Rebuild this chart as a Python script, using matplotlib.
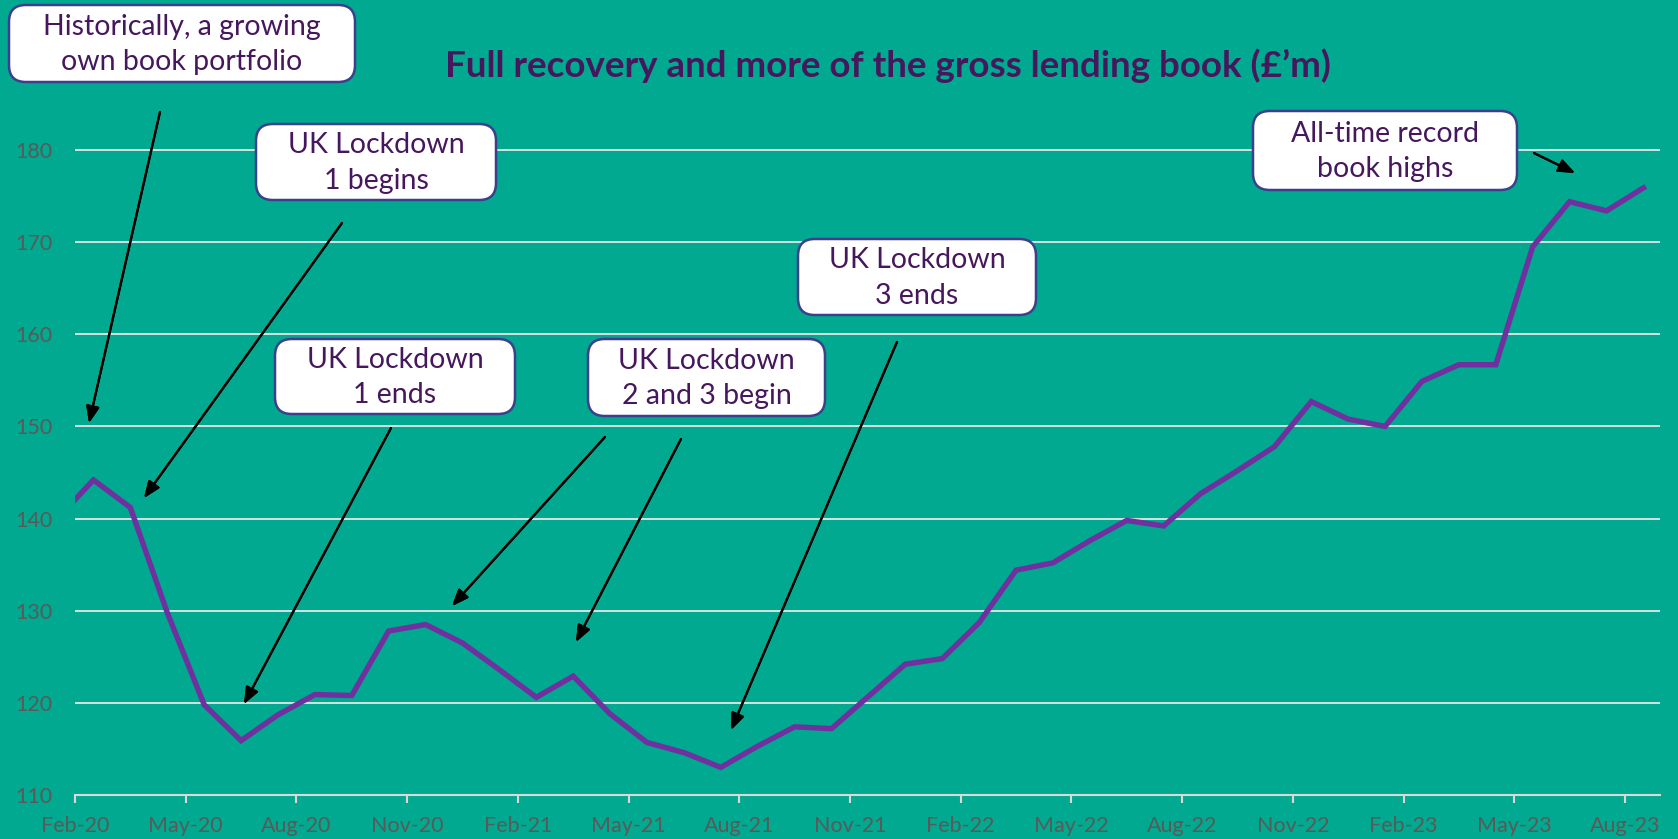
import numpy as np
import matplotlib.pyplot as plt
from matplotlib.patches import FancyBboxPatch

plt.rcParams['font.family'] = ['Lato', 'DejaVu Sans']

# monthly gross lending book, Feb-20 .. Aug-23 (plus Jan-20 lead-in point)
lead_value = 139.9
book = [144.2, 141.2, 129.8, 119.8, 115.9, 118.7, 120.9, 120.8, 127.8, 128.5,
        126.5, 123.6, 120.6, 122.9, 118.8, 115.7, 114.6, 113.0, 115.3, 117.4,
        117.2, 120.7, 124.2, 124.8, 128.7, 134.4, 135.2, 137.6, 139.8, 139.2,
        142.7, 145.2, 147.8, 152.7, 150.8, 150.0, 154.9, 156.7, 156.7, 169.5,
        174.4, 173.4, 175.9]
tick_labels = ['Feb-20', 'May-20', 'Aug-20', 'Nov-20', 'Feb-21', 'May-21', 'Aug-21',
               'Nov-21', 'Feb-22', 'May-22', 'Aug-22', 'Nov-22', 'Feb-23', 'May-23', 'Aug-23']
y_ticks = [110, 120, 130, 140, 150, 160, 170, 180]

notes = ["Historically, a growing\nown book portfolio", "UK Lockdown\n1 begins",
         "UK Lockdown\n1 ends", "UK Lockdown\n2 and 3 begin", "UK Lockdown\n3 ends",
         "All-time record\nbook highs"]

BG = '#00A98F'
PURPLE = '#7030A0'
TXT = '#46175C'
GREY = '#5A5A5A'
W, H = 1678, 839

fig = plt.figure(figsize=(W / 100, H / 100), dpi=100, facecolor=BG)
ax = fig.add_axes([75 / W, 1 - 795 / H, (1660 - 75) / W, (795 - 104) / H])
ax.set_facecolor(BG)

x = np.arange(len(book)) + 0.5
ax.plot(np.r_[-0.5, x], [lead_value] + book, color=PURPLE, lw=3.9, solid_joinstyle='miter')

ax.set_xlim(0, 42.95)
ax.set_ylim(110, 185)
ax.set_yticks(y_ticks)
ax.set_xticks(np.arange(0, 43, 3))
ax.set_xticklabels(tick_labels)
ax.grid(axis='y', color='#E6E6E6', lw=1.3)
ax.set_axisbelow(True)
for s in ['top', 'right', 'left']:
    ax.spines[s].set_visible(False)
ax.spines['bottom'].set_color('#D9D9D9')
ax.spines['bottom'].set_linewidth(1.5)
ax.tick_params(axis='y', length=0, labelsize=15.5, labelcolor=GREY, pad=16)
ax.tick_params(axis='x', length=6, width=1.5, color='#D9D9D9', labelsize=15.5,
               labelcolor=GREY, pad=9)

fig.text(888 / W, 1 - 66 / H, "Full recovery and more of the gross lending book (£’m)",
         ha='center', va='center', fontsize=26.5, fontweight='bold', color=TXT)

def fx(p):
    return p / W

def fy(p):
    return 1 - p / H

boxes = [(9, 5, 355, 82), (256, 124, 496, 200), (275, 339, 515, 414),
         (588, 339, 825, 416), (798, 239, 1036, 315), (1253, 111, 1517, 190)]
for (x0, y0, x1, y1), t in zip(boxes, notes):
    p = FancyBboxPatch((fx(x0), fy(y1)), fx(x1 - x0), (y1 - y0) / H,
                       boxstyle='round,pad=0,rounding_size=0.01',
                       transform=fig.transFigure, facecolor='white',
                       edgecolor='#3B3F8C', lw=1.8, mutation_aspect=2.0)
    fig.add_artist(p)
    fig.text(fx((x0 + x1) / 2), fy((y0 + y1) / 2 + 1), t, ha='center', va='center',
             fontsize=20.5, color=TXT, linespacing=1.45)

arrows = [((160, 112), (89, 423)), ((342, 223), (144, 498)), ((391, 428), (244, 704)),
          ((605, 437), (452, 606)), ((681, 439), (576, 642)), ((897, 342), (731, 730)),
          ((1534, 153), (1575, 173))]
for (sx, sy), (ex, ey) in arrows:
    fig.add_artist(plt.annotate('', xy=(fx(ex), fy(ey)), xytext=(fx(sx), fy(sy)),
                                xycoords='figure fraction', textcoords='figure fraction',
                                arrowprops=dict(arrowstyle='-|>,head_length=1.0,head_width=0.4',
                                                color='black', lw=1.6, shrinkA=0, shrinkB=0)))

fig.savefig('out.png', dpi=100, facecolor=BG)
